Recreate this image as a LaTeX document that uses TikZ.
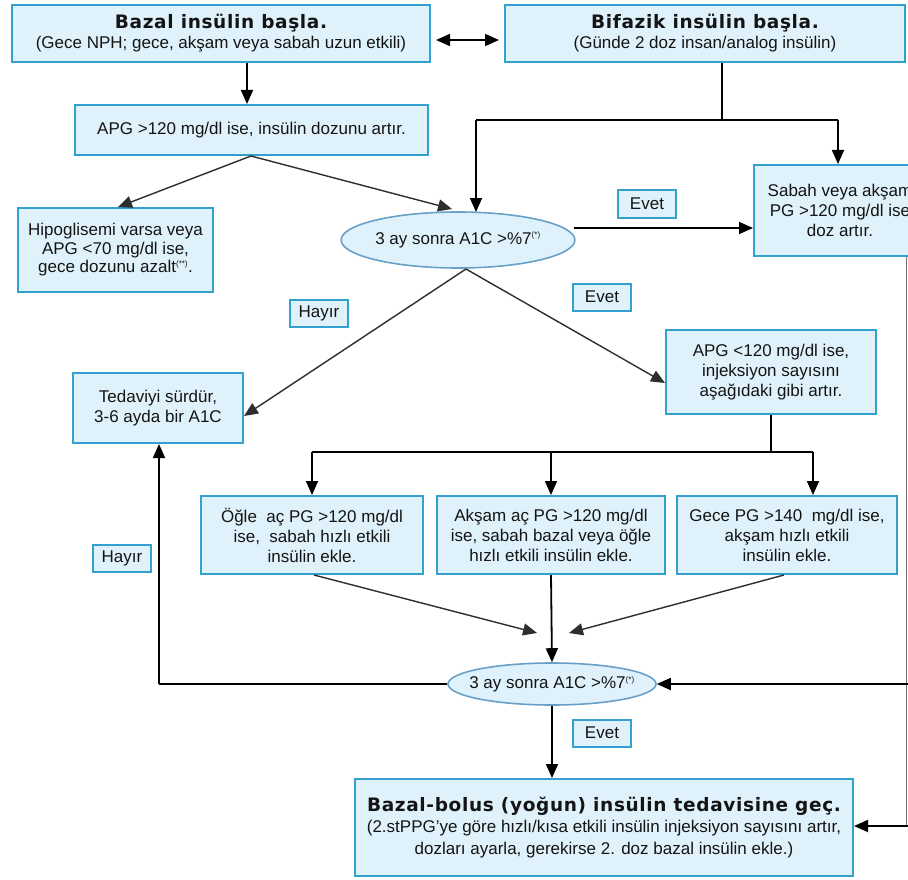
\documentclass[tikz,border=0pt]{standalone}
\usepackage{fontspec}
\setmainfont{Liberation Sans}
\newfontfamily\headfont{DejaVu Sans}[LetterSpace=3.5]
\usetikzlibrary{arrows.meta,shapes.geometric,calc}
\definecolor{boxfill}{RGB}{223,242,251}
\definecolor{boxline}{RGB}{52,160,205}
\definecolor{ellline}{RGB}{105,160,200}
\definecolor{ink}{RGB}{20,20,20}
\newcommand{\headtext}[1]{{\headfont\bfseries\fontsize{18.5}{22}\selectfont #1}}
\newcommand{\starnote}[1]{\textsuperscript{\fontsize{8}{8}\selectfont #1}}
\begin{document}
\begin{tikzpicture}[x=1pt,y=-1pt,
  box/.style={draw=boxline,line width=2pt,fill=boxfill,inner sep=2pt,align=center,
    text=ink,font=\fontsize{17}{20}\selectfont},
  tag/.style={box,minimum width=58pt,minimum height=27pt,inner sep=0pt},
  oval/.style={ellipse,draw=ellline,line width=1.6pt,fill=boxfill,inner sep=0pt,
    text=ink,font=\fontsize{17}{20}\selectfont},
  flow/.style={line width=1.8pt,draw=black,-{Triangle[length=14pt,width=12pt]}},
  slant/.style={line width=1.4pt,draw=black!82,-{Triangle[length=14pt,width=12pt]}},
  link/.style={line width=1.8pt,draw=black},
  thin/.style={line width=0.9pt,draw=black!55}]
\clip (0,0) rectangle (908,880);
\fill[white] (0,0) rectangle (908,880);

% --- top row: the two starting options
\node[box,minimum width=418pt,minimum height=57pt] (b1) at (221,33.5)
  {\headtext{Bazal insülin başla.}\\
   (Gece NPH; gece, akşam veya sabah uzun etkili)};
\node[box,minimum width=400pt,minimum height=57pt] (b2) at (705,33.5)
  {\headtext{Bifazik insülin başla.}\\
   (Günde 2 doz insan/analog insülin)};

% --- dose adjustment and first A1C check
\node[box,minimum width=353pt,minimum height=50pt] (b3) at (251.5,130)
  {APG >120 mg/dl ise, insülin dozunu artır.};
\node[box,minimum width=195pt,minimum height=84pt,font=\fontsize{17}{18.5}\selectfont] (b4) at (115.5,250)
  {Hipoglisemi varsa veya\\APG <70 mg/dl ise,\\gece dozunu azalt\starnote{(**)}.};
\node[oval,minimum width=222pt,minimum height=56pt] (e1) at (458,240)
  {3 ay sonra A1C >\%7\starnote{(*)}};
\node[box,minimum width=172pt,minimum height=91pt] (rb) at (840,210.5)
  {Sabah veya akşam\\PG >120 mg/dl ise\\doz artır.};

\node[tag] (ev1) at (647,204) {Evet};
\node[tag] (ev2) at (602,297) {Evet};
\node[tag] (hy1) at (319,313) {Hayır};

\node[box,minimum width=210pt,minimum height=84pt] (b5) at (771,372)
  {APG <120 mg/dl ise,\\injeksiyon sayısını\\aşağıdaki gibi artır.};
\node[box,minimum width=170pt,minimum height=70pt] (ted) at (158,408)
  {Tedaviyi sürdür,\\3-6 ayda bir A1C};

% --- three ways to add an injection
\node[box,minimum width=222pt,minimum height=78pt] (bA) at (312,535)
  {Öğle\ \ aç PG >120 mg/dl\\ise,\ \ sabah hızlı etkili\\insülin ekle.};
\node[box,minimum width=228pt,minimum height=78pt] (bB) at (551,535)
  {Akşam aç PG >120 mg/dl\\ise, sabah bazal veya öğle\\hızlı etkili insülin ekle.};
\node[box,minimum width=220pt,minimum height=78pt] (bC) at (787,535)
  {Gece PG >140\ \ mg/dl ise,\\akşam hızlı etkili\\insülin ekle.};

\node[tag] (hy2) at (122,558) {Hayır};

% --- second A1C check and final step
\node[oval,minimum width=208pt,minimum height=42pt,inner xsep=-10pt] (e2) at (552,684)
  {3 ay sonra A1C >\%7\starnote{(*)}};
\node[tag] (ev3) at (602,733) {Evet};
\node[box,minimum width=498pt,minimum height=97pt,font=\fontsize{17}{21.5}\selectfont] (fin) at (604,827.5)
  {\headtext{Bazal-bolus (yoğun) insülin tedavisine geç.}\\
   (2.stPPG'ye göre hızlı/kısa etkili insülin injeksiyon sayısını artır,\\
   dozları ayarla, gerekirse 2. doz bazal insülin ekle.)};

% --- connectors
\draw[link,{Triangle[length=14pt,width=12pt]}-{Triangle[length=14pt,width=12pt]}]
  ($(b1.east |- 0,40)+(5,0)$) -- ($(b2.west |- 0,40)+(-5,0)$);
\draw[flow] (b1.south -| 247,0) -- (b3.north -| 247,0);

\coordinate (split) at (722,120);
\draw[link] (b2.south -| split) -- (split);
\draw[link] (476,120) -- (838,120);
\draw[flow] (476,120) -- (476,212);
\draw[flow] (838,120) -- (rb.north -| 838,0);

\coordinate (b3foot) at (251,156);
\draw[slant] (b3foot) -- (118,207);
\draw[slant] (b3foot) -- (452,209);

\coordinate (e1foot) at (466,269);
\draw[flow] ($(e1.east |- 0,228)+(-2,0)$) -- (rb.west |- 0,228);
\draw[slant] (e1foot) -- (b5.west |- 0,383);
\draw[slant] (e1foot) -- (ted.east |- 0,416);

\coordinate (fan) at (771,452);
\draw[link] (b5.south -| fan) -- (fan);
\draw[link] (312,452) -- (813,452);
\draw[flow] (312,452) -- (bA.north -| 312,0);
\draw[flow] (551,452) -- (bB.north -| 551,0);
\draw[flow] (813,452) -- (bC.north -| 813,0);

\draw[slant] (bA.south -| 314,0) -- (537,633);
\draw[slant] (bC.south -| 784,0) -- (569,633);
\draw[flow] (bB.south) -- (e2.north);

\draw[link] (e2.west) -- (159,684);
\draw[flow] (159,684) -- (ted.south -| 159,0);

\coordinate (rail) at (906,257);
\draw[thin] (rail) -- (906,826);
\draw[flow] (908,684) -- (e2.east);
\draw[flow] (908,826) -- (fin.east |- 0,826);
\draw[flow] (e2.south) -- (fin.north -| e2.south);
\end{tikzpicture}
\end{document}
